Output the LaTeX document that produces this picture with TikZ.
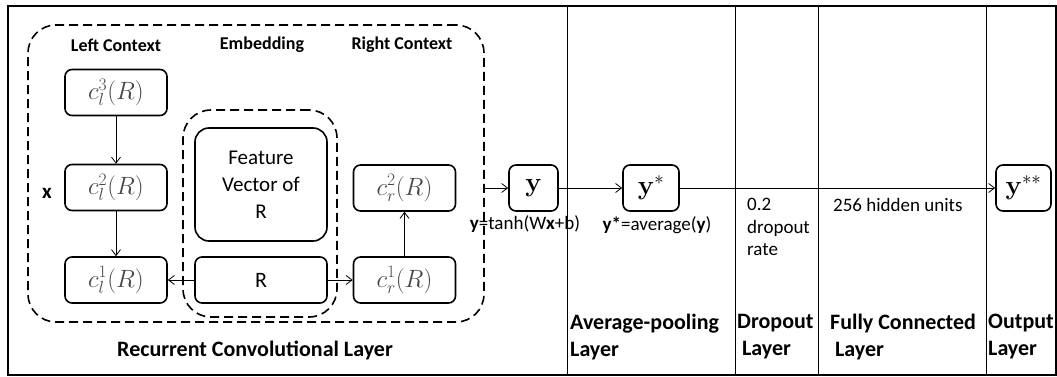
\RequirePackage{fix-cm}
\documentclass[tikz,border=0pt]{standalone}
\usepackage[no-math]{fontspec}
\setmainfont{Carlito}
\usetikzlibrary{arrows.meta}
\usetikzlibrary{positioning}

\begin{document}
\begin{tikzpicture}[x=1pt,y=-1pt,>={Straight Barb[length=6pt,width=9pt]},
		font=\fontsize{19}{22.5}\selectfont]
		\tikzstyle{unit}=[draw,line width=1.6pt,rounded corners=7pt,minimum width=102pt,minimum height=46pt,inner sep=0pt,text=black!72,font=\fontsize{25}{25}\selectfont]
		\tikzstyle{outbox}=[draw,line width=1.6pt,rounded corners=7pt,minimum height=46pt,inner sep=0pt,font=\fontsize{27}{27}\selectfont]
		\tikzstyle{group}=[draw,line width=1.6pt,dash pattern=on 9pt off 5pt,rounded corners=28pt,inner sep=0pt]
		\tikzstyle{flow}=[->,line width=0.8pt]
		\tikzstyle{head}=[font=\fontsize{18}{22}\selectfont\bfseries]
		\tikzstyle{layer}=[font=\fontsize{22}{27}\selectfont\bfseries,align=left,inner sep=0pt,anchor=west]
		
		\useasboundingbox (0,0) rectangle (1057,377);
		\draw[line width=1.5pt] (8,6) rectangle (1056,375);
		\foreach \xx in {567,735,818,986}
			\draw[line width=0.8pt] (\xx,6) -- (\xx,375);
		
		% recurrent convolutional layer
		\node[group,minimum width=456pt,minimum height=297pt] (rcl) at (256,173.5) {};
		\node[group,minimum width=154pt,minimum height=207pt] (emb) at (260,213.5) {};
		
		\node[head] (lctx) at (116,45)  {Left Context};
		\node[head] (ectx) at (262,45)  {Embedding};
		\node[head] (rctx) at (402,45)  {Right Context};
		
		\node[unit] (cl3) at (116,92.5) {\(c_l^3(R)\)};
		\node[unit] (cl2) at (116,187.5) {\(c_l^2(R)\)};
		\node[unit] (cl1) at (116,280) {\(c_l^1(R)\)};
		\node[unit,text=black,font=\fontsize{21}{27}\selectfont,align=center,minimum width=132pt,minimum height=113pt,rounded corners=14pt] (feat) at (261,184.5) {Feature\\Vector of\\R};
		\node[unit,text=black,font=\fontsize{22}{22}\selectfont,minimum width=132pt] (R) at (261,280) {R};
		\node[unit] (cr2) at (404.5,188) {\(c_r^2(R)\)};
		\node[unit] (cr1) at (404.5,280) {\(c_r^1(R)\)};
		\node[font=\fontsize{21}{22}\selectfont\bfseries] (xin) at (47,193) {x};
		
		% later layers
		\node[outbox,minimum width=49pt] (y)   at (533.5,188) {\(\mathbf{y}\)};
		\node[outbox,minimum width=56pt] (ys)  at (651,188)   {\(\mathbf{y}^{*}\)};
		\node[outbox,minimum width=55pt] (yss) at (1023.5,188) {\(\mathbf{y}^{**}\)};
		
		\draw[flow] (cl3) -- (cl2);
		\draw[flow] (cl2) -- (cl1);
		\draw[flow] (R) -- (cl1);
		\draw[flow] (R) -- (cr1);
		\draw[flow] (cr1) -- (cr2);
		\draw[flow] (rcl.east |- y) -- (y);
		\draw[flow] (y) -- (ys);
		\draw[flow] (ys) -- (yss);
		
		\node (ylab)  at (525,224) {\textbf{y}=tanh(W\textbf{x}+b)};
		\node (yslab) at (657,225) {\textbf{y*}=average(\textbf{y})};
		\node[align=left,anchor=north west,inner sep=0pt] (drop) at (747,198) {0.2\\dropout\\rate};
		\node[anchor=west,inner sep=0pt] (hid) at (833,205) {256 hidden units};
		
		\node[font=\fontsize{22}{27}\selectfont\bfseries] (rcllab) at (255,350) {Recurrent Convolutional Layer};
		\node[layer] (avg) at (570,337) {Average-pooling\\Layer};
		\node[layer] (dro) at (737,337) {Dropout\\\ Layer};
		\node[layer] (ful) at (830,337) {Fully Connected\\\ Layer};
		\node[layer] (out) at (988,337) {Output\\Layer};
\end{tikzpicture}
\end{document}
